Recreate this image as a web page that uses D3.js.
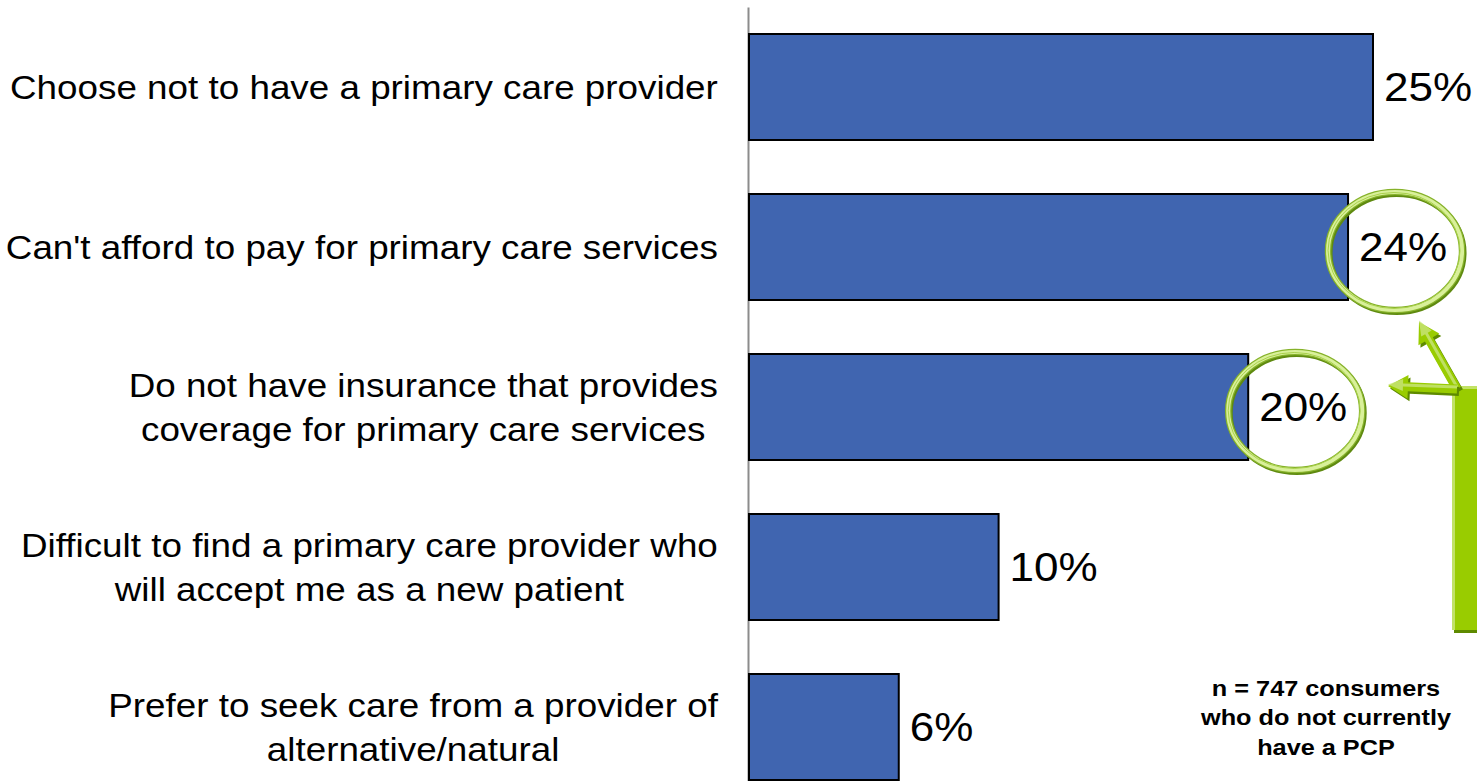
<!DOCTYPE html>
<html>
<head>
<meta charset="utf-8">
<script src="https://cdn.jsdelivr.net/npm/d3@7"></script>
<style>
  html, body { margin: 0; padding: 0; background: #ffffff; overflow: hidden; }
  svg { display: block; }
  text { font-family: "Liberation Sans", Arial, sans-serif; fill: #000; }
</style>
</head>
<body>
<svg id="chart" width="1477" height="781"></svg>
<script>
// Reasons for not having a primary care provider
const categories = [
  "Choose not to have a primary care provider",
  "Can't afford to pay for primary care services",
  "Do not have insurance that provides\ncoverage for primary care services",
  "Difficult to find a primary care provider who\nwill accept me as a new patient",
  "Prefer to seek care from a provider of\nalternative/natural"
];
const values = [25, 24, 20, 10, 6];
const highlighted = [1, 2];
const noteLines = ["n = 747 consumers", "who do not currently", "have a PCP"];

const svg = d3.select("#chart");

const x = d3.scaleLinear().domain([0, 25]).range([749, 1373]);
const y = d3.scaleBand().domain(d3.range(categories.length))
  .range([7, 807]).paddingInner(0.3375).paddingOuter(0.16875);

// vertical axis line
const axis = svg.append("g").attr("transform", `translate(${x(0) - 1},0)`)
  .call(d3.axisLeft(y).tickSize(0).tickSizeOuter(0).tickFormat(""));
axis.select(".domain").attr("stroke", "#8c8c8c").attr("stroke-width", 2);

// bars
svg.append("g").selectAll("rect").data(values).join("rect")
  .attr("x", x(0))
  .attr("y", (d, i) => y(i))
  .attr("width", d => x(d) - x(0))
  .attr("height", y.bandwidth())
  .attr("fill", "#4065b0")
  .attr("stroke", "#000")
  .attr("stroke-width", 2);

// value labels
const valueFont = 40, valueSX = 1.1;
svg.append("g").selectAll("g").data(values).join("g")
  .attr("transform", (d, i) => `translate(${x(d) + 11},${y(i) + y.bandwidth() / 2 + valueFont * 0.36}) scale(${valueSX},1)`)
  .append("text")
  .attr("font-size", valueFont)
  .text(d => d + "%");

// category labels: block right-aligned, lines centred in the block
const catFont = 34, lineGap = 44, catSX = 1.083;
const labelRight = 718;
categories.forEach((c, i) => {
  const lines = c.split("\n");
  const g = svg.append("g");
  const cy = y(i) + y.bandwidth() / 2;
  const texts = lines.map((ln, k) => g.append("text")
    .attr("font-size", catFont)
    .attr("text-anchor", "middle")
    .attr("y", (k - (lines.length - 1) / 2) * lineGap + catFont * 0.36)
    .text(ln));
  const maxW = d3.max(texts, t => t.node().getComputedTextLength());
  texts.forEach(t => t.attr("x", -maxW / 2));
  g.attr("transform", `translate(${labelRight},${cy}) scale(${catSX},1)`);
});

// highlight rings around selected values
function ring(cx, cy, rx, ry) {
  const g = svg.append("g");
  g.append("ellipse").attr("cx", cx + 1.5).attr("cy", cy + 2).attr("rx", rx).attr("ry", ry)
    .attr("fill", "none").attr("stroke", "#5f8a10").attr("stroke-width", 6);
  g.append("ellipse").attr("cx", cx).attr("cy", cy).attr("rx", rx).attr("ry", ry)
    .attr("fill", "none").attr("stroke", "#86b22a").attr("stroke-width", 6.5);
  g.append("ellipse").attr("cx", cx).attr("cy", cy).attr("rx", rx).attr("ry", ry)
    .attr("fill", "none").attr("stroke", "#d9f09a").attr("stroke-width", 4);
  g.append("ellipse").attr("cx", cx - 1).attr("cy", cy - 0.5).attr("rx", rx - 1).attr("ry", ry - 1)
    .attr("fill", "none").attr("stroke", "#a9d14c").attr("stroke-width", 1);
}
highlighted.forEach(i => {
  ring(x(values[i]) + 47, y(i) + y.bandwidth() / 2 + 4, 67, 59);
});

// callout box at the right edge
const box = { x: 1452, y: 386, w: 40, h: 244 };
svg.append("rect").attr("x", box.x + 2).attr("y", box.y + 3).attr("width", box.w).attr("height", box.h)
  .attr("fill", "#5e8a00");
svg.append("rect").attr("x", box.x).attr("y", box.y).attr("width", box.w).attr("height", box.h)
  .attr("fill", "#99cc00");
svg.append("rect").attr("x", box.x).attr("y", box.y).attr("width", 3).attr("height", box.h)
  .attr("fill", "#c2e266");
svg.append("rect").attr("x", box.x).attr("y", box.y).attr("width", box.w).attr("height", 3)
  .attr("fill", "#c2e266");

// arrows from the box to the rings
function arrowPoints(x0, y0, x1, y1, shaft, headW, headL) {
  const dx = x1 - x0, dy = y1 - y0, len = Math.hypot(dx, dy);
  const ux = dx / len, uy = dy / len, nx = -uy, ny = ux;
  const bx = x1 - ux * headL, by = y1 - uy * headL;
  const s = shaft / 2, h = headW / 2;
  return [
    [x0 + nx * s, y0 + ny * s], [bx + nx * s, by + ny * s], [bx + nx * h, by + ny * h],
    [x1, y1],
    [bx - nx * h, by - ny * h], [bx - nx * s, by - ny * s], [x0 - nx * s, y0 - ny * s]
  ];
}
const junction = [1457, 389];
const tips = [[1419, 322], [1388, 386]];
tips.forEach(t => {
  const pts = arrowPoints(junction[0], junction[1], t[0], t[1], 9, 24, 20);
  svg.append("polygon").attr("points", pts.map(p => [p[0] + 2, p[1] + 2.5].join(",")).join(" "))
    .attr("fill", "#5e8a00");
  svg.append("polygon").attr("points", pts.map(p => p.join(",")).join(" "))
    .attr("fill", "#99cc00");
  const hl = arrowPoints(junction[0], junction[1] - 2, t[0], t[1] - 1.5, 3, 12, 15);
  svg.append("polygon").attr("points", hl.map(p => p.join(",")).join(" "))
    .attr("fill", "#c8e57a").attr("opacity", 0.8);
});

// sample note
const noteFont = 22, noteSX = 1.15;
const note = svg.append("g").attr("transform", `translate(1326,${688 + noteFont * 0.36}) scale(${noteSX},1)`);
noteLines.forEach((ln, k) => {
  note.append("text").attr("font-size", noteFont).attr("font-weight", "bold")
    .attr("text-anchor", "middle").attr("y", k * 29.5).text(ln);
});
</script>
</body>
</html>
